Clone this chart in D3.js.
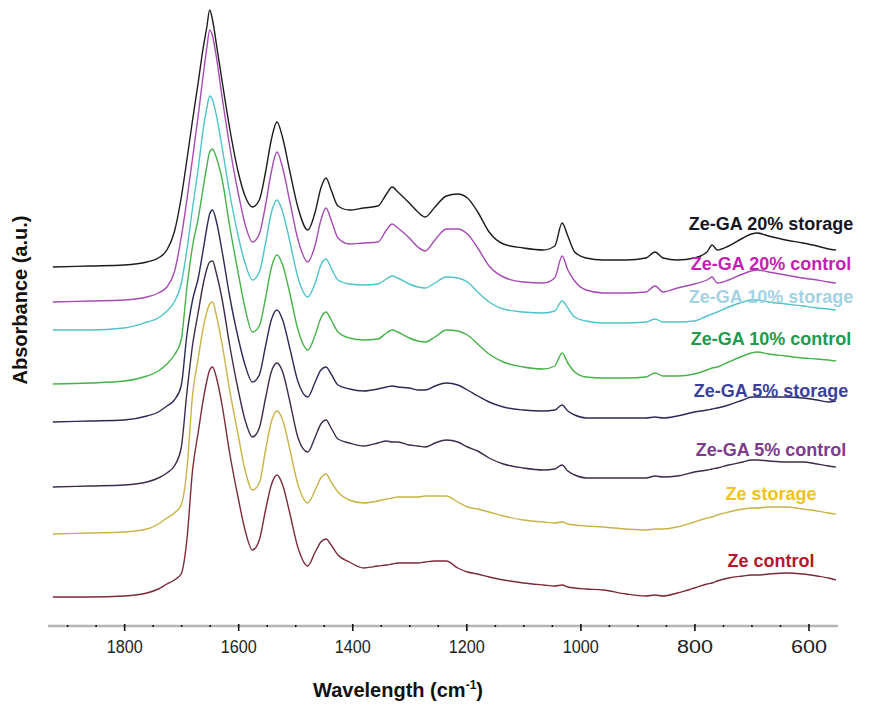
<!DOCTYPE html>
<html><head><meta charset="utf-8">
<script src="https://cdn.jsdelivr.net/npm/d3@7"></script>
<style>body{margin:0;background:#fff}</style>
</head><body>
<svg id="chart" width="872" height="708"></svg>
<script>
// ---- DATA (wavenumber in cm-1, stacked absorbance in milli a.u.) ----
const wavenumbers = [1925,1860,1800,1760,1740,1725,1712,1700,1690,1680,1670,1662,1655,1650,1645,1638,1628,1615,1600,1588,1575,1563,1552,1542,1532,1522,1510,1495,1478,1465,1455,1446,1437,1425,1405,1380,1355,1340,1330,1320,1300,1285,1272,1255,1235,1215,1198,1180,1160,1135,1100,1065,1045,1032,1022,1010,990,960,920,885,869,855,830,800,778,769,760,740,715,700,690,670,640,610,585,565,552];

const zeGA20Storage = [343,344,345,348,352,360,378,412,450,490,528,560,583,600,590,565,528,482,438,414,403,410,438,470,488,472,440,402,380,398,422,432,420,404,400,402,404,416,423,418,407,398,393,403,414,416,412,398,378,366,362,360,364,387,374,358,352,350,350,352,358,352,350,352,358,365,360,364,372,376,377,374,370,367,364,361,360];
const zeGA20Control = [308,309,310,313,317,323,338,372,410,452,495,532,562,580,574,552,512,464,417,386,368,376,405,438,458,442,410,370,348,365,390,402,390,372,366,367,368,380,386,382,372,363,359,370,381,381,376,362,344,333,328,327,332,354,340,329,320,317,317,318,324,318,322,326,330,333,327,330,336,339,340,338,335,332,330,328,327];
const zeGA10Storage = [280,280,282,288,292,299,308,326,360,402,442,478,502,514,510,494,462,417,374,347,330,338,367,397,410,398,370,332,313,327,345,351,342,330,326,325,326,331,334,332,326,323,322,327,333,332,328,318,308,301,298,297,299,309,302,293,289,287,287,288,291,288,288,289,294,296,298,303,308,310,310,308,306,304,302,301,300];
const zeGA10Control = [226,227,229,234,239,246,255,270,322,364,392,420,444,458,461,452,430,384,337,302,278,284,312,342,355,345,318,280,260,275,292,298,290,278,272,270,271,277,280,278,272,269,268,273,280,279,275,266,256,248,243,241,244,257,247,238,233,232,232,233,237,234,234,236,240,242,243,248,254,257,258,256,254,252,251,250,249];
const zeGA5Storage = [188,189,190,194,198,204,210,224,275,310,332,358,382,396,400,388,358,314,272,245,228,235,264,290,300,290,263,228,213,228,240,243,236,225,221,219,221,223,224,223,222,220,220,224,227,225,220,214,208,203,200,199,200,205,199,195,192,192,192,192,193,192,194,198,200,201,202,205,210,213,213,213,213,212,210,208,209];
const zeGA5Control = [123,124,125,128,132,137,144,162,217,265,298,324,341,348,349,336,310,265,220,190,173,182,212,238,247,238,210,172,158,173,186,190,182,171,167,164,167,169,168,168,165,164,163,167,170,168,163,159,152,146,142,140,141,145,139,135,132,132,132,132,134,133,134,138,140,141,142,145,148,150,150,149,148,148,146,144,143];
const zeStorage = [76,77,78,81,86,92,97,105,140,215,252,280,298,306,308,294,265,220,175,140,120,127,160,188,199,190,162,125,107,120,132,136,128,118,110,107,109,111,112,113,113,113,114,114,114,108,103,101,98,94,90,88,87,88,86,85,84,83,81,80,81,81,83,88,92,93,95,98,101,102,102,103,103,101,99,97,96];
const zeControl = [13,13,14,17,21,26,30,36,70,140,178,208,229,240,243,232,204,157,112,80,60,70,100,125,135,125,98,62,44,58,68,71,65,55,48,42,44,45,46,47,47,47,48,49,49,42,38,36,33,30,27,25,24,25,23,22,21,20,16,14,15,14,17,22,26,27,29,32,34,35,35,36,37,36,34,32,30];

const seriesNames = ["Ze-GA 20% storage","Ze-GA 20% control","Ze-GA 10% storage","Ze-GA 10% control","Ze-GA 5% storage","Ze-GA 5% control","Ze storage","Ze control"];
const seriesValues = [zeGA20Storage, zeGA20Control, zeGA10Storage, zeGA10Control, zeGA5Storage, zeGA5Control, zeStorage, zeControl];
const majorTicks = [1800,1600,1400,1200,1000,800,600];
const minorTicks = [1900,1850,1750,1700,1650,1550,1500,1450,1350,1300,1250,1150,1100,1050,950,900,850,750,700,650];

// ---- STYLE / LAYOUT ----
const lineColors  = ["#1c1c1c","#a64ab4","#4cc4c9","#45b348","#2b2b58","#3d2b4c","#c9b346","#7c2b3a"];
const labelColors = ["#15151f","#c31fb2","#a3d2e2","#1f9a4b","#3b3f9e","#7d3b8e","#f1c21d","#b4182c"];
const labelBaselines = [230,270,303,345,397,456,500,567];
const labelX = 771;
const font = "'Liberation Sans', Arial, sans-serif";

const svg = d3.select("#chart");
const x = d3.scaleLinear().domain([1930, 550]).range([50, 837]);
const y = d3.scaleLinear().domain([0, 610]).range([610, 0]);
const axisY = 626;

// axis
const gAxis = svg.append("g").attr("transform", `translate(0,${axisY})`);
gAxis.append("line").attr("x1", 48).attr("x2", 838).attr("y1", 0).attr("y2", 0)
  .attr("stroke", "#b5b5b5").attr("stroke-width", 2.5);
const minorAxis = d3.axisBottom(x).tickValues(minorTicks).tickSize(2).tickFormat("").tickSizeOuter(0);
const gMinor = svg.append("g").attr("transform", `translate(0,${axisY - 1})`).call(minorAxis);
gMinor.select(".domain").remove();
gMinor.selectAll(".tick line").attr("stroke", "#111").attr("stroke-width", 1.6);
const majorAxis = d3.axisBottom(x).tickValues(majorTicks).tickSize(7).tickFormat(d3.format("d")).tickSizeOuter(0);
const gMajor = svg.append("g").attr("transform", `translate(0,${axisY - 2})`).call(majorAxis);
gMajor.select(".domain").remove();
gMajor.selectAll(".tick line").attr("stroke", "#111").attr("stroke-width", 1.6);
gMajor.selectAll(".tick text")
  .attr("y", 29).attr("dy", 0)
  .attr("fill", "#222").attr("font-family", font).attr("font-size", 18)
  .attr("textLength", 36).attr("lengthAdjust", "spacingAndGlyphs");

// lines
const line = d3.line().x(d => x(d[0])).y(d => y(d[1])).curve(d3.curveMonotoneX);
seriesValues.forEach((vals, i) => {
  svg.append("path")
    .datum(wavenumbers.map((w, j) => [w, vals[j]]))
    .attr("fill", "none")
    .attr("stroke", lineColors[i])
    .attr("stroke-width", 1.4)
    .attr("stroke-linejoin", "round")
    .attr("d", line);
});

// series labels
seriesNames.forEach((name, i) => {
  svg.append("text")
    .attr("x", labelX).attr("y", labelBaselines[i])
    .attr("text-anchor", "middle")
    .attr("font-family", font).attr("font-weight", "bold").attr("font-size", 18)
    .attr("fill", labelColors[i])
    .text(name);
});

// axis titles
const xt = svg.append("text").attr("x", 398).attr("y", 697)
  .attr("text-anchor", "middle").attr("font-family", font)
  .attr("font-weight", "bold").attr("font-size", 20).attr("fill", "#111");
xt.append("tspan").text("Wavelength (cm");
xt.append("tspan").attr("dy", -8).attr("font-size", 12).text("-1");
xt.append("tspan").attr("dy", 8).text(")");

svg.append("text")
  .attr("transform", "translate(27,300) rotate(-90)")
  .attr("text-anchor", "middle").attr("font-family", font)
  .attr("font-weight", "bold").attr("font-size", 20).attr("fill", "#111")
  .text("Absorbance (a.u.)");
</script>
</body></html>
